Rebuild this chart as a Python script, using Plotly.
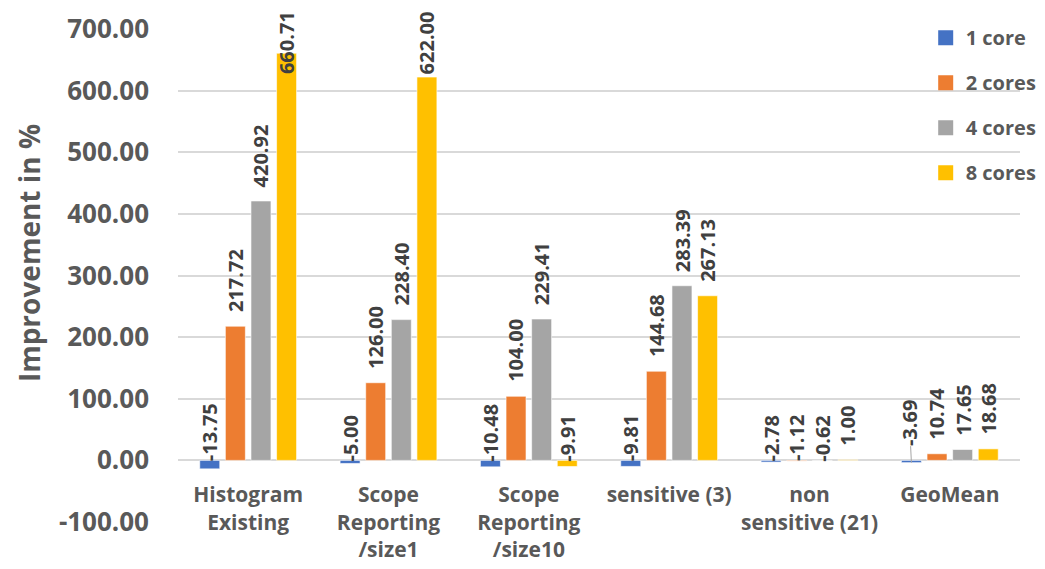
import plotly.graph_objects as go

categories = ["Histogram<br>Existing", "Scope<br>Reporting<br>/size1", "Scope<br>Reporting<br>/size10",
              "sensitive (3)", "non<br>sensitive (21)", "GeoMean"]
series_names = ["1 core", "2 cores", "4 cores", "8 cores"]
core1 = [-13.75, -5.00, -10.48, -9.81, -2.78, -3.69]
core2 = [217.72, 126.00, 104.00, 144.68, -1.12, 10.74]
core4 = [420.92, 228.40, 229.41, 283.39, -0.62, 17.65]
core8 = [660.71, 622.00, -9.91, 267.13, 1.00, 18.68]
colors = ["#4472C4", "#ED7D31", "#A5A5A5", "#FFC000"]
y_ticks = [-100, 0, 100, 200, 300, 400, 500, 600, 700]

FONT = "Open Sans"
TXT = "#595959"
LBL = "#404040"
bargap = 0.27
slot = (1 - bargap) / 4

fig = go.Figure()
idx = list(range(len(categories)))
all_series = [core1, core2, core4, core8]
for i, (name, vals) in enumerate(zip(series_names, all_series)):
    fig.add_trace(go.Bar(x=idx, y=vals, name=name, marker_color=colors[i],
                         marker_line=dict(color="rgba(255,255,255,0.6)", width=1),
                         showlegend=False))
# legend entries with larger square swatches
for i, name in enumerate(series_names):
    fig.add_trace(go.Scatter(x=[None], y=[None], mode="markers", name=f"<b>{name}</b>",
                             marker=dict(symbol="square", size=15, color=colors[i]),
                             legendgroup=name, hoverinfo="skip"))

lblfont = dict(family=FONT, size=20, color=LBL)
annotations = []
for i, vals in enumerate(all_series):
    for j, v in enumerate(vals):
        xpos = j + (i - 1.5) * slot
        txt = f"<b>{v:.2f}</b>"
        if j == 5 and i == 0:
            annotations.append(dict(x=xpos, y=v, xref="x", yref="y", text=txt, textangle=-90,
                                    showarrow=True, arrowhead=0, arrowwidth=1, arrowcolor="#A6A6A6",
                                    ax=-2, ay=-40, font=lblfont, borderpad=0))
            continue
        if v > 600:
            # label pushed inside the chart area at the top, as in the original
            annotations.append(dict(x=xpos, y=1, xref="x", yref="paper", text=txt, textangle=-90,
                                    showarrow=False, yanchor="top", xanchor="center",
                                    yshift=19, borderpad=0, font=lblfont))
            continue
        annotations.append(dict(x=xpos, y=max(v, 0), xref="x", yref="y", text=txt, textangle=-90,
                                showarrow=False, yanchor="bottom", xanchor="center",
                                yshift=13 if v > 0 else -2, borderpad=0, font=lblfont))

annotations.append(dict(x=-0.176, y=0.545, xref="paper", yref="paper", text="<b>Improvement in %</b>",
                        textangle=-90, showarrow=False, xanchor="center", yanchor="middle",
                        font=dict(family=FONT, size=28, color=TXT)))

fig.update_layout(
    width=1045, height=569,
    margin=dict(l=178, r=3, t=29, b=47),
    paper_bgcolor="white", plot_bgcolor="white",
    barmode="group", bargap=bargap, bargroupgap=0.22,
    font=dict(family=FONT, color=TXT),
    annotations=annotations,
    legend=dict(x=0.888, y=1.022, xanchor="left", yanchor="top", bgcolor="rgba(0,0,0,0)",
                font=dict(family=FONT, size=20, color=TXT), traceorder="grouped",
                tracegroupgap=16, itemwidth=30),
    xaxis=dict(tickvals=idx, ticktext=[f"<b>{c}</b>" for c in categories], range=[-0.5, 5.5],
               anchor="free", position=0.125, showgrid=False, showline=False, zeroline=False,
               ticks="", ticklabelstandoff=20,
               tickfont=dict(family=FONT, size=21, color=TXT)),
    yaxis=dict(range=[-100, 700], tickvals=y_ticks, ticktext=[f"<b>{t:.2f}</b>" for t in y_ticks],
               showgrid=True, gridcolor="#D9D9D9", gridwidth=1.5, zeroline=True,
               zerolinecolor="#D9D9D9", zerolinewidth=1.5, showline=False, ticks="",
               ticklabelstandoff=28, tickfont=dict(family=FONT, size=26, color=TXT)),
)

fig.write_html("out.html")
